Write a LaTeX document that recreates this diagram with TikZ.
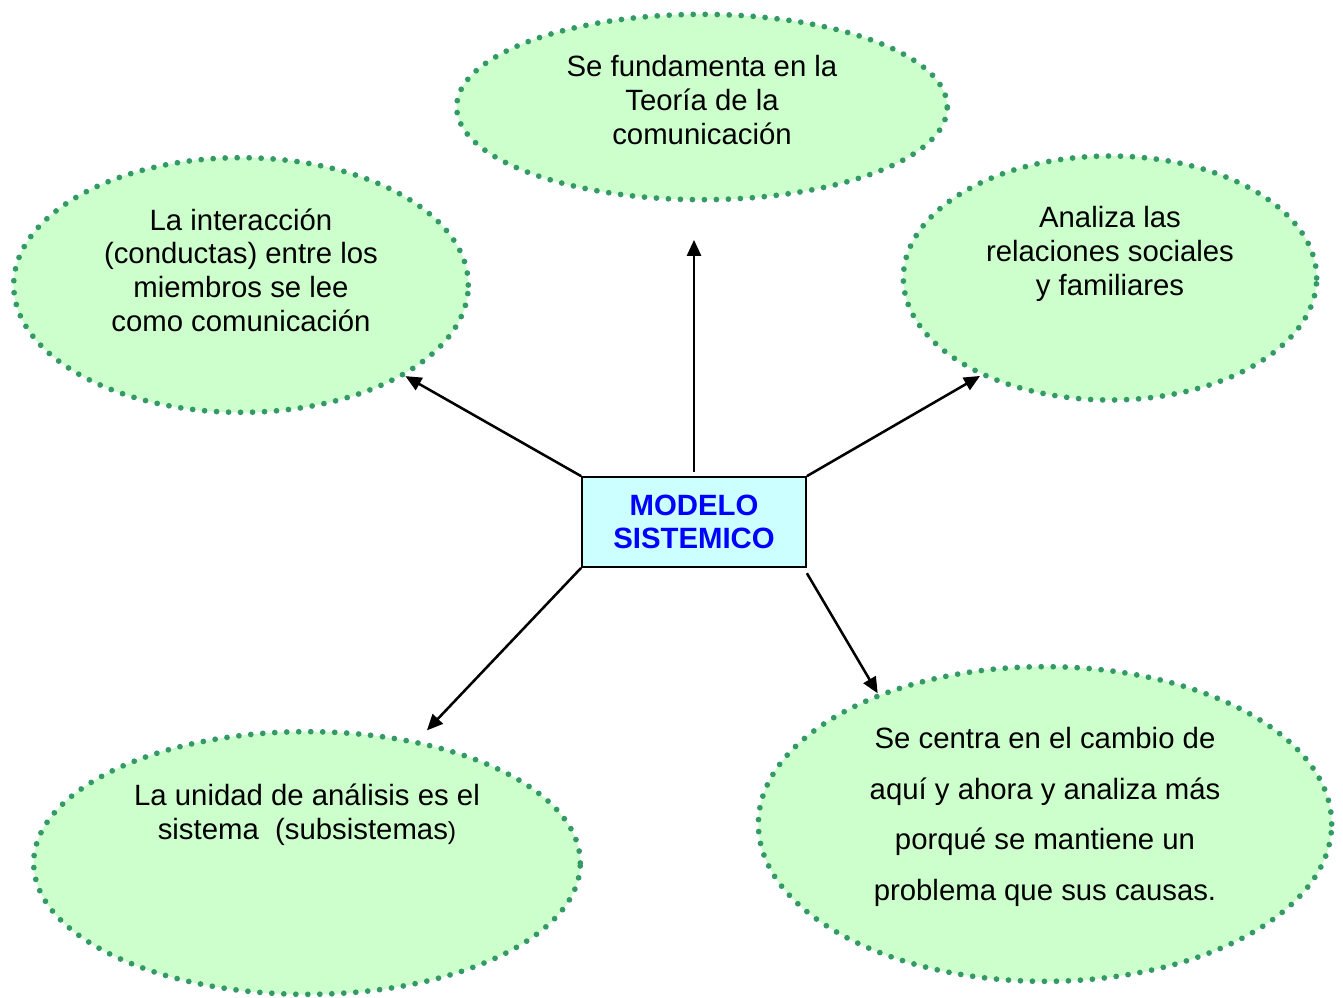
\documentclass[tikz,border=0pt]{standalone}
\usepackage{fontspec}
\setmainfont{Liberation Sans}
\usetikzlibrary{shapes.geometric,arrows.meta}

\definecolor{dotgreen}{HTML}{339966}
\definecolor{bubble}{HTML}{CCFFCC}
\definecolor{boxfill}{HTML}{CCFFFF}

\tikzset{
  bubble/.style={ellipse,fill=bubble,draw=dotgreen,line width=4.3pt,
    dash pattern=on 0pt off 9pt,line cap=round,inner sep=0pt},
  bubbletext/.style={align=center,font=\fontsize{22}{25.2}\selectfont},
  link/.style={-{Triangle[length=12pt,width=10.5pt]},line width=1.9pt}
}

\begin{document}
\begin{tikzpicture}[x=0.75pt,y=-0.75pt]
  \useasboundingbox (0,0) rectangle (1343,997);

  \node at (702,107) [bubble,minimum width=368pt,minimum height=139pt] (top) {};
  \node at (241,285) [bubble,minimum width=341pt,minimum height=191pt] (ul) {};
  \node at (1110,278) [bubble,minimum width=310pt,minimum height=183pt] (ur) {};
  \node at (307,863) [bubble,minimum width=410pt,minimum height=197pt] (ll) {};
  \node at (1045,824) [bubble,minimum width=430pt,minimum height=236pt] (lr) {};

  \node at (702,100) [bubbletext] (topText) {
    Se fundamenta en la\\
    Teoría de la\\
    comunicación
  };
  \node at (241,270) [bubbletext] (ulText) {
    La interacción\\
    (conductas) entre los\\
    miembros se lee\\
    como comunicación
  };
  \node at (1110,254) [bubbletext] (urText) {
    Analiza las\\
    relaciones sociales\\
    y familiares
  };
  \node at (307,815) [bubbletext] (llText) {
    La unidad de análisis es el\\
    sistema~~(subsistemas{\fontsize{18.5}{25}\selectfont)}
  };
  \node at (1045,817) [bubbletext,font=\fontsize{22}{38}\selectfont] (lrText) {
    Se centra en el cambio de\\
    aquí y ahora y analiza más\\
    porqué se mantiene un\\
    problema que sus causas.
  };

  \node at (694,522) [draw,line width=1.3pt,fill=boxfill,minimum width=168pt,minimum height=67.5pt,
    align=center,text=blue,font=\fontsize{22}{25}\selectfont\bfseries] (model) {
    MODELO\\
    SISTEMICO
  };

  \draw[link] ([yshift=3pt]model.north) -- (model.north |- top.south) [shorten >=28pt];
  \draw[link] (model.north west) -- (ul.331);
  \draw[link] (model.north east) -- (ur.217);
  \draw[link] (model.south west) -- (ll.48) [shorten >=10pt];
  \draw[link] ([yshift=-4pt]model.south east) -- (lr.142);
\end{tikzpicture}
\end{document}
